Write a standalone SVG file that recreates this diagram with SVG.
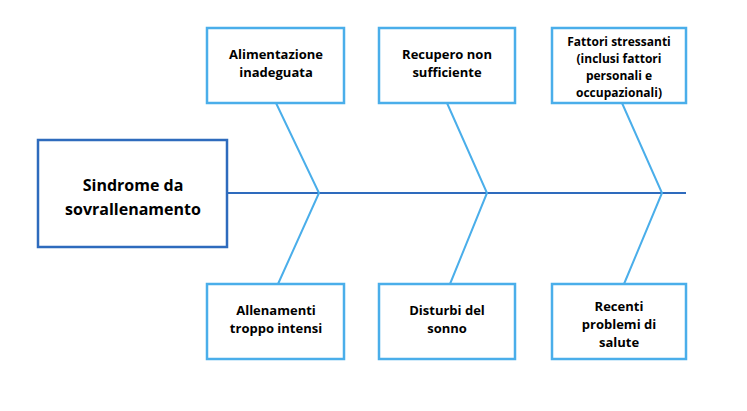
<svg xmlns="http://www.w3.org/2000/svg" width="747" height="411" viewBox="0 0 747 411">
<style>
.box{fill:#fff;stroke:#4aaeea;stroke-width:2.5}
.main{fill:#fff;stroke:#2e6bbd;stroke-width:2.5}
.t{font-family:"Open Sans","Liberation Sans",sans-serif;font-weight:bold;font-size:13px;fill:#000;text-anchor:middle}
.tm{font-family:"Open Sans","Liberation Sans",sans-serif;font-weight:bold;font-size:16px;fill:#000;text-anchor:middle}
.bone{stroke:#4aaeea;stroke-width:2;fill:none}
.spine{stroke:#2e6bbd;stroke-width:2;fill:none}
</style>
<rect width="747" height="411" fill="#fff"/>
<g id="connectors">
<line class="spine" x1="227" y1="193" x2="686" y2="193"/>
<polyline class="bone" points="276,103 319,193 278,284"/>
<polyline class="bone" points="447,103 487,193 450,284"/>
<polyline class="bone" points="622,103 662,193 624,284"/>
</g>
<g id="main">
<rect class="main" x="38" y="140" width="189" height="107"/>
<text class="tm" x="133" y="191">Sindrome da</text>
<text class="tm" x="133" y="215">sovrallenamento</text>
</g>
<g id="n1">
<rect class="box" x="207" y="28" width="137" height="75"/>
<text class="t" x="276" y="59">Alimentazione</text>
<text class="t" x="276" y="77">inadeguata</text>
</g>
<g id="n2">
<rect class="box" x="379" y="28" width="136" height="75"/>
<text class="t" x="447" y="59">Recupero non</text>
<text class="t" x="447" y="77">sufficiente</text>
</g>
<g id="n3">
<rect class="box" x="552" y="28" width="134" height="75"/>
<text class="t" x="619" y="46" style="font-size:12px">Fattori stressanti</text>
<text class="t" x="619" y="63" style="font-size:12px">(inclusi fattori</text>
<text class="t" x="619" y="80" style="font-size:12px">personali e</text>
<text class="t" x="619" y="97" style="font-size:12px">occupazionali)</text>
</g>
<g id="n4">
<rect class="box" x="207" y="284" width="137" height="75"/>
<text class="t" x="276" y="315">Allenamenti</text>
<text class="t" x="276" y="333">troppo intensi</text>
</g>
<g id="n5">
<rect class="box" x="379" y="284" width="136" height="75"/>
<text class="t" x="447" y="315">Disturbi del</text>
<text class="t" x="447" y="333">sonno</text>
</g>
<g id="n6">
<rect class="box" x="552" y="284" width="134" height="75"/>
<text class="t" x="619" y="311">Recenti</text>
<text class="t" x="619" y="329">problemi di</text>
<text class="t" x="619" y="347">salute</text>
</g>
</svg>
